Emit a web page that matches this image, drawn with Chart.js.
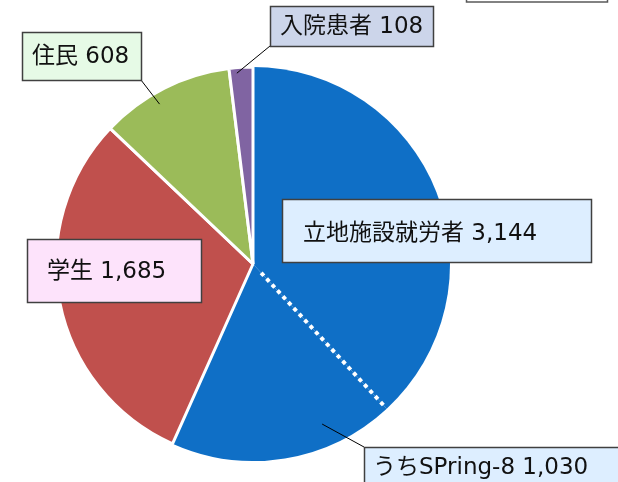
<!DOCTYPE html>
<html>
<head>
<meta charset="utf-8">
<script src="https://cdn.jsdelivr.net/npm/chart.js@4.4.0/dist/chart.umd.min.js"></script>
<style>
  html, body { margin: 0; padding: 0; background: #ffffff; }
  #wrap { width: 618px; height: 482px; position: relative; }
</style>
</head>
<body>
<div id="wrap"><canvas id="c" width="618" height="482"></canvas></div>
<script>
// ---- data ----
const categories = ['立地施設就労者', '学生', '住民', '入院患者'];
const totals = [3144, 1685, 608, 108];
const subCategory = 'うちSPring-8';
const subValue = 1030;
const sliceColors = ['#0F6FC6', '#0F6FC6', '#C0504D', '#9BBB59', '#8064A2'];

// pie slices: 立地施設就労者 (excluding SPring-8), SPring-8, 学生, 住民, 入院患者
const pieLabels = [categories[0], subCategory, categories[1], categories[2], categories[3]];
const pieValues = [totals[0] - subValue, subValue, totals[1], totals[2], totals[3]];

const fmt = v => v.toLocaleString('en-US');
const FONT = "23px 'DejaVu Sans', 'Noto Sans CJK JP', sans-serif";

// label layout: box, text position, leader (slice index, position along slice, radius factor)
const labelBoxes = [
  { text: categories[3] + ' ' + fmt(totals[3]), box: [270, 6, 433, 46], fill: '#CCD5EA', tx: 280, ty: 27,
    leader: { slice: 4, t: 0.31, rf: 0.972, from: [270, 46] } },
  { text: categories[2] + ' ' + fmt(totals[2]), box: [22, 32, 141, 80], fill: '#E6FAE6', tx: 32, ty: 57,
    leader: { slice: 3, t: 0.41, rf: 0.94, from: [141, 80] } },
  { text: categories[0] + ' ' + fmt(totals[0]), box: [282, 199, 591, 262], fill: '#DDEEFF', tx: 303, ty: 234 },
  { text: categories[1] + ' ' + fmt(totals[1]), box: [27, 239, 201, 302], fill: '#FDE3FB', tx: 47, ty: 272 },
  { text: subCategory + ' ' + fmt(subValue), box: [364, 447, 640, 500], fill: '#DDEEFF', tx: 373, ty: 468,
    leader: { slice: 1, t: 0.29, rf: 0.885, from: [364, 447] } }
];

const decorPlugin = {
  id: 'decor',
  afterDatasetsDraw(chart) {
    const ctx = chart.ctx;
    const meta = chart.getDatasetMeta(0);
    const a1 = meta.data[1];
    const cx = a1.x, cy = a1.y, R = a1.outerRadius;
    // dotted split line inside the blue slice (SPring-8 share)
    const ang = a1.startAngle;
    ctx.save();
    ctx.strokeStyle = '#ffffff';
    ctx.lineWidth = 4;
    ctx.setLineDash([4, 4]);
    ctx.lineCap = 'butt';
    ctx.beginPath();
    ctx.moveTo(cx + Math.cos(ang) * 12, cy + Math.sin(ang) * 12);
    ctx.lineTo(cx + Math.cos(ang) * (R - 2), cy + Math.sin(ang) * (R - 2));
    ctx.stroke();
    ctx.restore();

    // top-right partial box
    ctx.save();
    ctx.fillStyle = '#ffffff';
    ctx.strokeStyle = '#595959';
    ctx.lineWidth = 1.5;
    ctx.fillRect(466, -10, 142, 12);
    ctx.strokeRect(466.5, -10, 141, 12);
    ctx.restore();

    // labels
    labelBoxes.forEach(l => {
      ctx.save();
      if (l.leader) {
        const el = meta.data[l.leader.slice];
        const a = el.startAngle + (el.endAngle - el.startAngle) * l.leader.t;
        const r = R * l.leader.rf;
        ctx.strokeStyle = '#000000';
        ctx.lineWidth = 1;
        ctx.beginPath();
        ctx.moveTo(l.leader.from[0], l.leader.from[1]);
        ctx.lineTo(cx + Math.cos(a) * r, cy + Math.sin(a) * r);
        ctx.stroke();
      }
      const [x0, y0, x1, y1] = l.box;
      ctx.fillStyle = l.fill;
      ctx.fillRect(x0, y0, x1 - x0, y1 - y0);
      ctx.strokeStyle = '#404040';
      ctx.lineWidth = 1.5;
      ctx.strokeRect(x0 + 0.5, y0 + 0.5, x1 - x0, y1 - y0);
      ctx.fillStyle = '#111111';
      ctx.font = FONT;
      ctx.textBaseline = 'middle';
      ctx.textAlign = 'left';
      ctx.fillText(l.text, l.tx, l.ty);
      ctx.restore();
    });
  }
};

new Chart(document.getElementById('c'), {
  type: 'pie',
  data: {
    labels: pieLabels,
    datasets: [{
      data: pieValues,
      backgroundColor: sliceColors,
      borderColor: '#ffffff',
      borderWidth: [0, 0, 3, 3, 3]
    }]
  },
  options: {
    responsive: false,
    animation: false,
    radius: 197,
    layout: { padding: { left: 53, right: 165, top: 64, bottom: 18 } },
    plugins: {
      legend: { display: false },
      title: { display: false },
      tooltip: { enabled: false }
    }
  },
  plugins: [decorPlugin]
});
</script>
</body>
</html>
